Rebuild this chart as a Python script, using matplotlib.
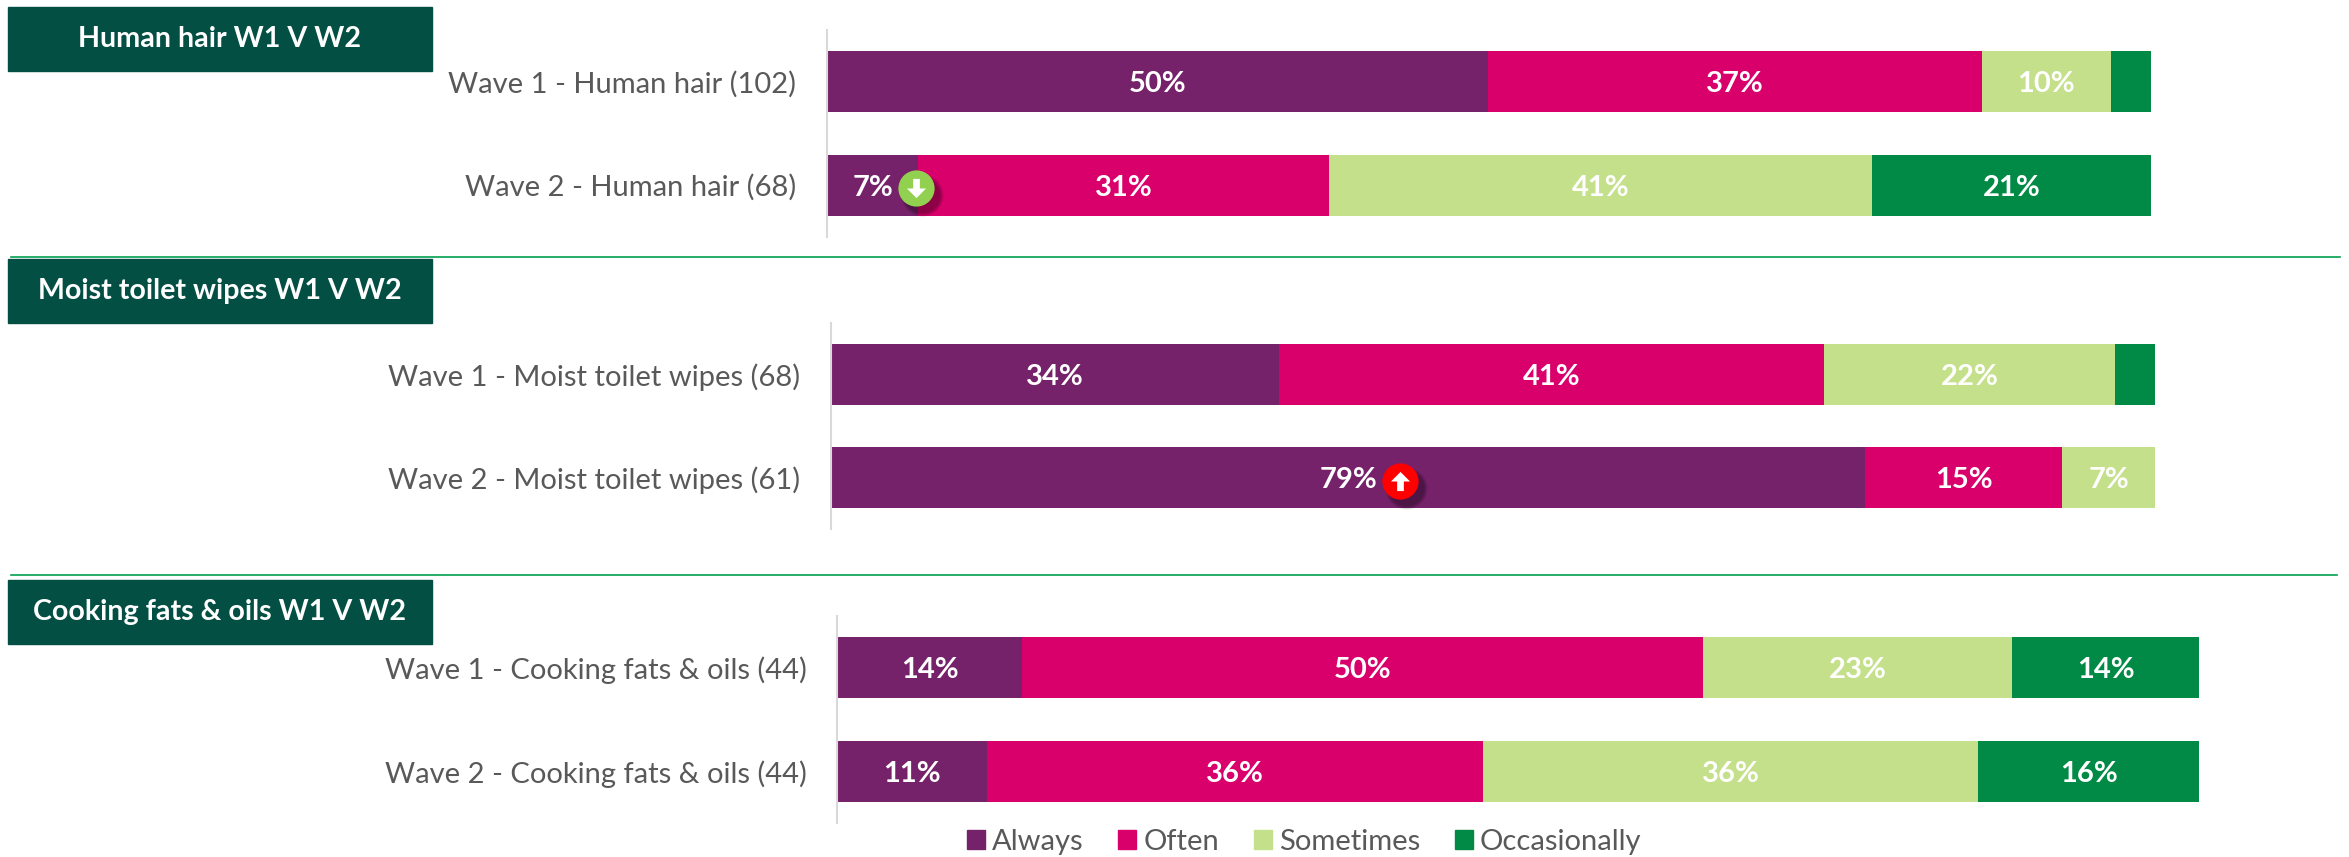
import matplotlib
matplotlib.use("Agg")
import matplotlib.pyplot as plt
from matplotlib.patches import Patch, Rectangle

plt.rcParams["font.family"] = ["Lato", "DejaVu Sans"]

W, H = 2349, 857

series_names = ["Always", "Often", "Sometimes", "Occasionally"]
colors = ["#76226B", "#D9006C", "#C4E08A", "#008A45"]

hair_labels = ["Wave 1 - Human hair (102)", "Wave 2 - Human hair (68)"]
hair_always = [49.9, 6.9]
hair_often = [37.3, 31.0]
hair_sometimes = [9.8, 41.0]
hair_occasionally = [3.0, 21.1]

wipes_labels = ["Wave 1 - Moist toilet wipes (68)", "Wave 2 - Moist toilet wipes (61)"]
wipes_always = [33.8, 78.1]
wipes_often = [41.2, 14.9]
wipes_sometimes = [22.0, 7.0]
wipes_occasionally = [3.0, 0]

oils_labels = ["Wave 1 - Cooking fats & oils (44)", "Wave 2 - Cooking fats & oils (44)"]
oils_always = [13.6, 11.0]
oils_often = [50.0, 36.4]
oils_sometimes = [22.7, 36.4]
oils_occasionally = [13.7, 16.2]

# printed labels, the chart rounds them on its own so they don't always add to 100
hair_text = [[50, 37, 10, None], [7, 31, 41, 21]]
wipes_text = [[34, 41, 22, None], [79, 15, 7, None]]
oils_text = [[14, 50, 23, 14], [11, 36, 36, 16]]

headers = ["Human hair W1 V W2", "Moist toilet wipes W1 V W2", "Cooking fats & oils W1 V W2"]


def box(x0, y0, x1, y1):
    # pixel box (top left origin) to figure fractions
    return [x0 / W, 1 - y1 / H, (x1 - x0) / W, (y1 - y0) / H]


def stacked(pos, labels, rows, text):
    ax = fig.add_axes(box(*pos))
    left = [0, 0]
    for i, vals in enumerate(rows):
        ax.barh([0, 1], vals, left=left, height=0.59, color=colors[i])
        for j in range(2):
            if text[j][i] is not None:
                ax.text(left[j] + vals[j] / 2, j + 0.025, f"{text[j][i]}%", color="white", fontsize=21,
                        fontweight="bold", ha="center", va="center")
        left = [left[0] + vals[0], left[1] + vals[1]]
    ax.set_xlim(0, 100)
    ax.set_ylim(1.5, -0.5)
    ax.set_yticks([0, 1])
    ax.set_yticklabels(labels, fontsize=21, color="#595959")
    ax.tick_params(axis="y", length=0, pad=22)
    ax.set_xticks([])
    for s in ["top", "right", "bottom"]:
        ax.spines[s].set_visible(False)
    ax.spines["left"].set_color("#D9D9D9")
    ax.spines["left"].set_linewidth(1.5)
    return ax


def badge(ax, x, y, color, up):
    # significance marker, round with a soft shadow and white arrow
    for k in range(5):
        ax.scatter([x], [y], s=640 + k * 70, color="#000000", alpha=0.08, linewidths=0,
                   transform=ax.transData + shadow, zorder=5)
    ax.scatter([x], [y], s=680, color=color, linewidths=0, zorder=6)
    arrow = [(-0.35, 0), (-1, 0), (0, 1), (1, 0), (0.35, 0), (0.35, -1), (-0.35, -1)]
    if not up:
        arrow = [(a, -b) for a, b in arrow]
    ax.scatter([x], [y], s=190, marker=arrow, color="white", linewidths=0, zorder=7)


fig = plt.figure(figsize=(W / 100, H / 100), dpi=100)
shadow = matplotlib.transforms.Affine2D().translate(6, -7)

ax1 = stacked((827, 30, 2151, 237), hair_labels,
              [hair_always, hair_often, hair_sometimes, hair_occasionally], hair_text)
ax2 = stacked((831, 323, 2155, 529), wipes_labels,
              [wipes_always, wipes_often, wipes_sometimes, wipes_occasionally], wipes_text)
ax3 = stacked((837, 616, 2199, 823), oils_labels,
              [oils_always, oils_often, oils_sometimes, oils_occasionally], oils_text)

badge(ax1, 6.7, 1.03, "#92D050", False)
badge(ax2, 43.0, 1.03, "#FF0000", True)

# header boxes
header_y = [(7, 71), (259, 323), (580, 644)]
for name, (y0, y1) in zip(headers, header_y):
    fig.add_artist(Rectangle((8 / W, 1 - y1 / H), 424 / W, (y1 - y0) / H, color="#034F43",
                             transform=fig.transFigure))
    fig.text(220 / W, 1 - (y0 + y1) / 2 / H, name, color="white", fontsize=20.6, fontweight="bold",
             ha="center", va="center")

# separators
fig.add_artist(plt.Line2D([11 / W, 2340 / W], [1 - 257 / H, 1 - 257 / H], color="#00A050", lw=1.2))
fig.add_artist(plt.Line2D([11 / W, 2337 / W], [1 - 575 / H, 1 - 575 / H], color="#00A050", lw=1.2))

handles = [Patch(color=c, label=n) for c, n in zip(colors, series_names)]
fig.legend(handles=handles, ncol=4, frameon=False, fontsize=21, labelcolor="#595959",
           handlelength=0.62, handleheight=0.62, handletextpad=0.25, columnspacing=1.18,
           loc="center", bbox_to_anchor=(1304 / W, 1 - 842 / H), borderpad=0)

fig.savefig("out.png", dpi=100)
